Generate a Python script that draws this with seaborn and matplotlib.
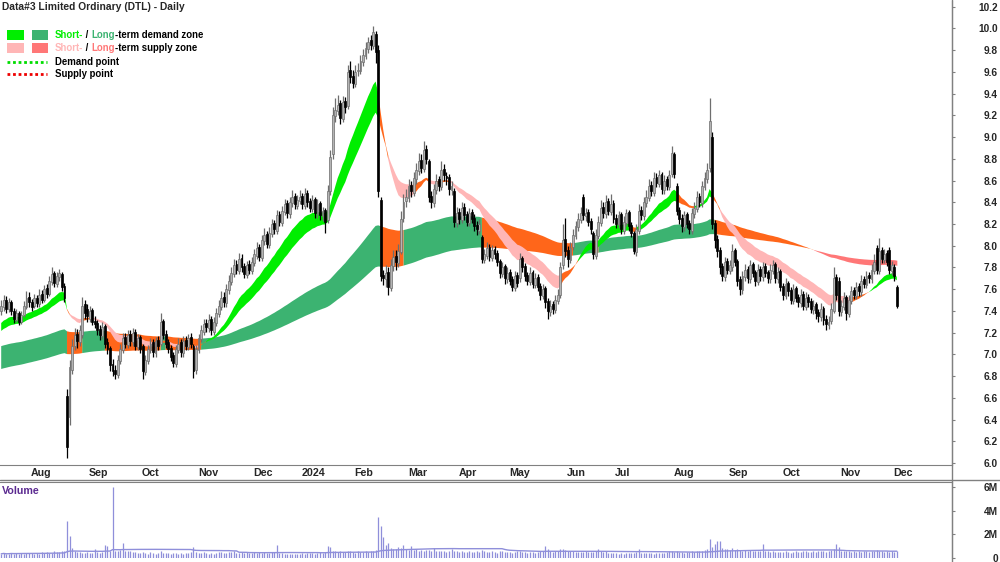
import numpy as np
import pandas as pd
import matplotlib
matplotlib.use("Agg")
import matplotlib.pyplot as plt
import matplotlib.transforms as mtransforms
from matplotlib import font_manager
from matplotlib.lines import Line2D
from matplotlib.patches import Rectangle
import seaborn as sns

# ==================================================
# Settings
# ==================================================
sns.set_style("white")
plt.rcParams["font.family"] = ["Liberation Sans", "DejaVu Sans"]
plt.rcParams["font.weight"] = "bold"

installed = {f.name for f in font_manager.fontManager.ttflist}
NARROW = "Liberation Sans Narrow" if "Liberation Sans Narrow" in installed else "Liberation Sans"
NARROW_SCALE = 1.0 if NARROW == "Liberation Sans Narrow" else 0.82

W, H = 1000, 562

# ==================================================
# Data (daily, 17 Jul 2023 - 4 Dec 2024)
# ==================================================
holidays = ["2023-12-25", "2023-12-26", "2024-01-01", "2024-01-26",
            "2024-03-29", "2024-04-01", "2024-04-25", "2024-06-10"]

opens = [
    # Jul 23
    7.40, 7.44, 7.50, 7.42, 7.48, 7.40, 7.32, 7.38, 7.30, 7.36, 7.44,
    # Aug 23
    7.53, 7.48, 7.45, 7.52, 7.46, 7.56, 7.50, 7.61, 7.56, 7.67, 7.75, 7.65,
    7.71, 7.74, 7.63, 6.62, 6.42, 6.86, 7.08, 7.19, 7.11, 7.18, 7.46,
    # Sep 23
    7.42, 7.33, 7.41, 7.31, 7.29, 7.23, 7.17, 7.26, 7.11, 7.06, 6.91, 6.86,
    6.81, 6.94, 7.04, 7.16, 7.09, 7.19, 7.11, 7.21, 7.07,
    # Oct 23
    7.16, 7.08, 6.84, 6.94, 7.04, 7.11, 7.01, 7.13, 7.10, 7.31, 7.19, 7.11,
    7.06, 6.99, 6.91, 7.04, 7.11, 7.01, 7.13, 7.07, 7.16, 7.08,
    # Nov 23
    6.86, 7.04, 7.14, 7.21, 7.29, 7.24, 7.33, 7.21, 7.29, 7.37, 7.44, 7.53,
    7.47, 7.59, 7.67, 7.74, 7.83, 7.77, 7.89, 7.81, 7.73, 7.83,
    # Dec 23
    7.77, 7.84, 7.91, 7.99, 7.89, 8.04, 8.11, 8.01, 8.11, 8.21, 8.14, 8.29,
    8.21, 8.31, 8.39, 8.29, 8.39, 8.46, 8.37,
    # Jan 24
    8.41, 8.46, 8.37, 8.49, 8.41, 8.34, 8.43, 8.29, 8.39, 8.27, 8.33, 8.24,
    8.50, 8.84, 9.19, 9.24, 9.31, 9.17, 9.33, 9.29, 9.62,
    # Feb 24
    9.56, 9.49, 9.61, 9.61, 9.69, 9.75, 9.81, 9.89, 9.84, 9.95, 9.80, 8.42,
    7.73, 7.69, 7.76, 7.61, 7.81, 7.91, 7.84, 7.94, 8.26,
    # Mar 24
    8.41, 8.44, 8.56, 8.49, 8.61, 8.69, 8.79, 8.71, 8.89, 8.78, 8.46, 8.39,
    8.51, 8.61, 8.54, 8.71, 8.64, 8.63, 8.51, 8.50,
    # Apr 24
    8.21, 8.31, 8.24, 8.36, 8.29, 8.21, 8.31, 8.26, 8.19, 8.14, 8.08, 7.87,
    7.91, 7.99, 7.89, 7.97, 7.93, 7.86, 7.74, 7.81,
    # May 24
    7.69, 7.76, 7.69, 7.61, 7.73, 7.70, 7.89, 7.81, 7.73, 7.67, 7.76, 7.64,
    7.71, 7.63, 7.54, 7.61, 7.49, 7.39, 7.46, 7.41, 7.49, 7.55, 7.82,
    # Jun 24
    8.06, 7.96, 7.87, 7.99, 8.09, 8.17, 8.24, 8.45, 8.27, 8.31, 8.23, 8.12,
    7.91, 8.09, 8.21, 8.36, 8.29, 8.41, 8.31,
    # Jul 24
    8.39, 8.26, 8.19, 8.29, 8.14, 8.21, 8.31, 8.19, 8.12, 7.94, 8.14, 8.33,
    8.27, 8.39, 8.44, 8.56, 8.49, 8.63, 8.57, 8.66, 8.51, 8.61, 8.54,
    # Aug 24
    8.66, 8.84, 8.55, 8.33, 8.26, 8.17, 8.29, 8.21, 8.14, 8.29, 8.34, 8.46,
    8.39, 8.54, 8.61, 8.72, 9.00, 8.21, 8.06, 7.96, 7.81, 7.71,
    # Sep 24
    7.86, 7.77, 7.80, 7.96, 7.86, 7.69, 7.59, 7.71, 7.79, 7.69, 7.83, 7.76,
    7.67, 7.79, 7.71, 7.81, 7.76, 7.69, 7.77, 7.83, 7.69,
    # Oct 24
    7.77, 7.63, 7.54, 7.66, 7.59, 7.49, 7.61, 7.53, 7.47, 7.56, 7.44, 7.53,
    7.49, 7.41, 7.46, 7.39, 7.34, 7.43, 7.33, 7.27, 7.31, 7.40, 7.71,
    # Nov 24
    7.68, 7.39, 7.44, 7.53, 7.37, 7.49, 7.59, 7.54, 7.63, 7.57, 7.69, 7.64,
    7.73, 7.69, 7.77, 7.98, 7.77, 7.96, 7.87, 7.93, 7.96,
    # Dec 24
    7.77, 7.80, 7.62,
]

highs = [
    7.50, 7.55, 7.54, 7.52, 7.50, 7.43, 7.42, 7.40, 7.40, 7.49, 7.58,
    7.57, 7.51, 7.56, 7.55, 7.60, 7.59, 7.64, 7.65, 7.72, 7.80, 7.77, 7.76,
    7.79, 7.76, 7.66, 6.68, 6.95, 7.14, 7.24, 7.23, 7.27, 7.53, 7.50,
    7.46, 7.45, 7.43, 7.35, 7.32, 7.27, 7.30, 7.28, 7.15, 7.08, 6.96, 6.90,
    6.99, 7.10, 7.20, 7.20, 7.22, 7.22, 7.24, 7.23, 7.19,
    7.18, 7.10, 6.99, 7.09, 7.15, 7.14, 7.16, 7.17, 7.38, 7.33, 7.22, 7.14,
    7.09, 7.02, 7.09, 7.15, 7.14, 7.17, 7.17, 7.19, 7.20, 7.10,
    7.09, 7.19, 7.27, 7.33, 7.33, 7.37, 7.35, 7.34, 7.43, 7.50, 7.58, 7.57,
    7.65, 7.73, 7.80, 7.88, 7.87, 7.93, 7.92, 7.84, 7.86, 7.87,
    7.90, 7.97, 8.03, 8.02, 8.10, 8.16, 8.14, 8.17, 8.25, 8.24, 8.33, 8.32,
    8.37, 8.43, 8.42, 8.45, 8.51, 8.49, 8.47,
    8.51, 8.49, 8.53, 8.51, 8.44, 8.47, 8.45, 8.43, 8.41, 8.36, 8.35, 8.56,
    8.88, 9.28, 9.36, 9.39, 9.34, 9.38, 9.37, 9.66, 9.70,
    9.62, 9.66, 9.68, 9.76, 9.81, 9.88, 9.92, 9.94, 10.02, 9.98, 9.85, 8.45,
    7.78, 7.82, 7.80, 7.88, 7.96, 7.96, 8.02, 8.32, 8.48,
    8.52, 8.61, 8.60, 8.68, 8.76, 8.85, 8.84, 8.96, 8.93, 8.80, 8.50, 8.57,
    8.66, 8.64, 8.78, 8.75, 8.68, 8.66, 8.60, 8.53,
    8.36, 8.35, 8.40, 8.39, 8.32, 8.35, 8.34, 8.29, 8.23, 8.25, 8.10, 7.97,
    8.03, 8.02, 8.01, 8.00, 7.96, 7.88, 7.85, 7.83,
    7.80, 7.79, 7.72, 7.77, 7.76, 7.93, 7.91, 7.84, 7.76, 7.80, 7.78, 7.75,
    7.74, 7.66, 7.65, 7.63, 7.52, 7.50, 7.49, 7.55, 7.60, 7.85, 8.20,
    8.26, 8.00, 8.03, 8.15, 8.23, 8.30, 8.36, 8.48, 8.35, 8.34, 8.26, 8.14,
    8.15, 8.27, 8.42, 8.40, 8.47, 8.44, 8.48,
    8.42, 8.29, 8.32, 8.31, 8.27, 8.34, 8.33, 8.22, 8.14, 8.20, 8.38, 8.37,
    8.45, 8.51, 8.61, 8.60, 8.68, 8.67, 8.70, 8.68, 8.65, 8.64, 8.70,
    8.92, 8.86, 8.58, 8.36, 8.29, 8.32, 8.31, 8.24, 8.35, 8.40, 8.50, 8.49,
    8.60, 8.68, 8.76, 9.36, 9.05, 8.24, 8.10, 7.99, 7.84, 7.90,
    7.89, 7.87, 8.02, 7.98, 7.88, 7.72, 7.77, 7.83, 7.81, 7.87, 7.85, 7.78,
    7.83, 7.81, 7.85, 7.84, 7.78, 7.83, 7.87, 7.85, 7.80,
    7.79, 7.66, 7.70, 7.68, 7.62, 7.65, 7.63, 7.56, 7.60, 7.58, 7.57, 7.56,
    7.52, 7.50, 7.48, 7.42, 7.47, 7.45, 7.36, 7.35, 7.47, 7.80, 7.74,
    7.71, 7.50, 7.57, 7.55, 7.55, 7.63, 7.62, 7.67, 7.66, 7.73, 7.72, 7.77,
    7.76, 7.83, 7.92, 8.01, 8.07, 7.99, 7.97, 7.96, 7.99,
    7.86, 7.83, 7.64,
]

lows = [
    7.36, 7.40, 7.38, 7.39, 7.36, 7.29, 7.30, 7.27, 7.28, 7.34, 7.42,
    7.44, 7.40, 7.43, 7.44, 7.44, 7.47, 7.48, 7.52, 7.54, 7.64, 7.62, 7.62,
    7.68, 7.58, 7.48, 6.05, 6.35, 6.82, 7.04, 7.06, 7.08, 7.15, 7.33,
    7.30, 7.30, 7.27, 7.24, 7.18, 7.13, 7.14, 7.06, 7.00, 6.85, 6.80, 6.77,
    6.78, 6.91, 7.01, 7.06, 7.06, 7.08, 7.08, 7.04, 7.04,
    7.01, 6.77, 6.81, 6.91, 7.01, 6.98, 6.98, 7.04, 7.08, 7.14, 7.06, 7.01,
    6.94, 6.88, 6.88, 7.01, 6.98, 6.98, 7.04, 7.04, 7.06, 6.78,
    6.82, 7.01, 7.11, 7.18, 7.21, 7.21, 7.18, 7.18, 7.26, 7.34, 7.41, 7.44,
    7.44, 7.56, 7.64, 7.71, 7.74, 7.74, 7.76, 7.70, 7.70, 7.74,
    7.74, 7.81, 7.88, 7.86, 7.86, 8.01, 7.98, 7.98, 8.08, 8.11, 8.11, 8.18,
    8.18, 8.28, 8.26, 8.26, 8.36, 8.34, 8.34,
    8.38, 8.34, 8.34, 8.36, 8.31, 8.31, 8.26, 8.26, 8.24, 8.23, 8.12, 8.21,
    8.47, 8.80, 9.14, 9.20, 9.12, 9.14, 9.22, 9.26, 9.50,
    9.45, 9.46, 9.56, 9.58, 9.65, 9.72, 9.77, 9.80, 9.81, 9.68, 8.45, 7.68,
    7.64, 7.62, 7.55, 7.58, 7.77, 7.78, 7.80, 7.92, 8.22,
    8.36, 8.40, 8.45, 8.46, 8.57, 8.65, 8.67, 8.68, 8.75, 8.40, 8.35, 8.36,
    8.48, 8.50, 8.51, 8.60, 8.56, 8.47, 8.47, 8.17,
    8.17, 8.20, 8.21, 8.24, 8.18, 8.18, 8.21, 8.14, 8.10, 8.11, 7.84, 7.84,
    7.88, 7.86, 7.86, 7.88, 7.81, 7.70, 7.71, 7.65,
    7.66, 7.64, 7.58, 7.58, 7.62, 7.67, 7.76, 7.68, 7.64, 7.64, 7.61, 7.61,
    7.58, 7.50, 7.51, 7.43, 7.33, 7.35, 7.37, 7.38, 7.46, 7.52, 7.79,
    7.90, 7.80, 7.84, 7.96, 8.06, 8.14, 8.21, 8.24, 8.23, 8.18, 8.11, 7.88,
    7.88, 8.06, 8.18, 8.26, 8.26, 8.28, 8.28,
    8.21, 8.16, 8.16, 8.11, 8.11, 8.18, 8.14, 8.08, 7.92, 7.91, 8.11, 8.24,
    8.24, 8.36, 8.41, 8.46, 8.46, 8.54, 8.54, 8.48, 8.48, 8.51, 8.51,
    8.63, 8.62, 8.28, 8.20, 8.13, 8.14, 8.16, 8.11, 8.11, 8.26, 8.31, 8.36,
    8.36, 8.51, 8.58, 8.68, 8.15, 7.98, 7.90, 7.74, 7.68, 7.68,
    7.74, 7.74, 7.77, 7.81, 7.63, 7.55, 7.56, 7.68, 7.66, 7.66, 7.71, 7.63,
    7.64, 7.68, 7.68, 7.71, 7.66, 7.66, 7.74, 7.66, 7.66,
    7.58, 7.50, 7.51, 7.54, 7.46, 7.46, 7.48, 7.44, 7.44, 7.41, 7.41, 7.44,
    7.38, 7.37, 7.33, 7.30, 7.31, 7.27, 7.22, 7.23, 7.28, 7.38, 7.50,
    7.35, 7.35, 7.41, 7.32, 7.34, 7.46, 7.51, 7.51, 7.54, 7.54, 7.61, 7.61,
    7.66, 7.66, 7.74, 7.74, 7.74, 7.84, 7.84, 7.81, 7.74,
    7.73, 7.68, 7.43,
]

closes = [
    7.45, 7.50, 7.42, 7.48, 7.40, 7.33, 7.38, 7.30, 7.36, 7.45, 7.52,
    7.48, 7.44, 7.52, 7.47, 7.55, 7.50, 7.60, 7.56, 7.68, 7.74, 7.66, 7.72,
    7.75, 7.62, 7.52, 6.15, 6.88, 7.08, 7.18, 7.12, 7.22, 7.45, 7.38,
    7.35, 7.40, 7.30, 7.28, 7.22, 7.18, 7.25, 7.10, 7.05, 6.90, 6.85, 6.82,
    6.95, 7.05, 7.15, 7.10, 7.18, 7.12, 7.20, 7.08, 7.15,
    7.05, 6.85, 6.95, 7.05, 7.10, 7.02, 7.12, 7.08, 7.30, 7.18, 7.10, 7.05,
    6.98, 6.92, 7.05, 7.10, 7.02, 7.12, 7.08, 7.15, 7.10, 6.85,
    7.05, 7.15, 7.22, 7.28, 7.25, 7.32, 7.22, 7.30, 7.38, 7.45, 7.52, 7.48,
    7.60, 7.68, 7.75, 7.82, 7.78, 7.88, 7.80, 7.74, 7.82, 7.78,
    7.85, 7.92, 7.98, 7.90, 8.05, 8.10, 8.02, 8.12, 8.20, 8.15, 8.28, 8.22,
    8.32, 8.38, 8.30, 8.40, 8.45, 8.38, 8.42,
    8.45, 8.38, 8.48, 8.40, 8.35, 8.42, 8.30, 8.38, 8.28, 8.32, 8.22, 8.50,
    8.82, 9.20, 9.25, 9.30, 9.18, 9.32, 9.28, 9.60, 9.55,
    9.50, 9.60, 9.62, 9.70, 9.76, 9.82, 9.88, 9.85, 9.97, 9.78, 8.50, 7.72,
    7.70, 7.75, 7.62, 7.82, 7.90, 7.85, 7.95, 8.25, 8.40,
    8.45, 8.55, 8.50, 8.62, 8.70, 8.78, 8.72, 8.88, 8.80, 8.45, 8.40, 8.52,
    8.60, 8.55, 8.70, 8.65, 8.62, 8.52, 8.55, 8.22,
    8.30, 8.25, 8.35, 8.28, 8.22, 8.30, 8.25, 8.18, 8.15, 8.20, 7.88, 7.92,
    7.98, 7.90, 7.96, 7.92, 7.85, 7.75, 7.80, 7.70,
    7.75, 7.68, 7.62, 7.72, 7.66, 7.88, 7.80, 7.72, 7.68, 7.75, 7.65, 7.70,
    7.62, 7.55, 7.60, 7.48, 7.40, 7.45, 7.42, 7.50, 7.55, 7.80, 8.05,
    7.95, 7.88, 7.98, 8.10, 8.18, 8.25, 8.30, 8.28, 8.30, 8.22, 8.15, 7.92,
    8.10, 8.22, 8.35, 8.30, 8.40, 8.32, 8.38,
    8.25, 8.20, 8.28, 8.15, 8.22, 8.30, 8.18, 8.12, 7.95, 8.15, 8.32, 8.28,
    8.40, 8.45, 8.55, 8.50, 8.62, 8.58, 8.65, 8.52, 8.60, 8.55, 8.65,
    8.85, 8.66, 8.32, 8.25, 8.18, 8.28, 8.20, 8.15, 8.30, 8.35, 8.45, 8.40,
    8.55, 8.62, 8.70, 9.15, 8.20, 8.05, 7.95, 7.80, 7.72, 7.85,
    7.78, 7.82, 7.95, 7.85, 7.68, 7.60, 7.72, 7.78, 7.70, 7.82, 7.75, 7.68,
    7.78, 7.72, 7.80, 7.75, 7.70, 7.78, 7.82, 7.70, 7.76,
    7.62, 7.55, 7.65, 7.58, 7.50, 7.60, 7.52, 7.48, 7.55, 7.45, 7.52, 7.48,
    7.42, 7.45, 7.38, 7.35, 7.42, 7.32, 7.28, 7.30, 7.42, 7.70, 7.55,
    7.40, 7.45, 7.52, 7.38, 7.50, 7.58, 7.55, 7.62, 7.58, 7.68, 7.65, 7.72,
    7.70, 7.78, 7.85, 7.78, 7.95, 7.88, 7.92, 7.85, 7.78,
    7.82, 7.72, 7.45,
]

# volume in millions of shares
volumes = [
    0.35, 0.42, 0.30, 0.38, 0.45, 0.33, 0.40, 0.36, 0.44, 0.38, 0.41,
    0.39, 0.46, 0.35, 0.42, 0.37, 0.48, 0.40, 0.52, 0.45, 0.43, 0.55, 0.47,
    0.50, 0.62, 0.58, 3.15, 1.86, 0.85, 0.60, 0.48, 0.52, 0.45, 0.40,
    0.50, 0.46, 0.42, 0.80, 0.48, 0.44, 0.52, 1.10, 1.00, 0.55, 6.00, 0.62,
    0.58, 0.70, 1.27, 0.60, 0.55, 0.62, 0.50, 0.48, 0.45,
    0.42, 0.50, 0.45, 0.38, 0.47, 0.40, 0.36, 0.44, 0.55, 0.41, 0.39, 0.46,
    0.37, 0.43, 0.40, 0.35, 0.42, 0.38, 0.45, 0.40, 0.48, 0.93,
    0.52, 0.45, 0.40, 0.48, 0.42, 0.38, 0.44, 0.36, 0.41, 0.47, 0.50, 0.43,
    0.46, 0.52, 0.48, 0.55, 0.45, 0.42, 0.50, 0.44, 0.47, 0.40,
    0.45, 0.50, 0.42, 0.48, 0.40, 0.53, 0.46, 0.44, 0.51, 0.47, 1.10, 0.45,
    0.40, 0.38, 0.35, 0.32, 0.30, 0.34, 0.36,
    0.38, 0.42, 0.36, 0.40, 0.45, 0.41, 0.37, 0.43, 0.48, 0.46, 0.52, 1.00,
    0.90, 0.62, 0.55, 0.50, 0.58, 0.47, 0.52, 0.60, 0.55,
    0.50, 0.46, 0.55, 0.52, 0.48, 0.58, 0.53, 0.60, 0.62, 0.70, 3.46, 2.70,
    1.78, 1.10, 1.30, 0.85, 0.80, 0.78, 0.95, 0.82, 1.10,
    0.75, 0.70, 1.00, 0.66, 0.72, 0.62, 0.68, 0.58, 0.64, 0.70, 0.60, 0.85,
    0.56, 0.62, 0.55, 0.60, 0.52, 0.58, 0.75, 0.62,
    0.55, 0.50, 0.58, 0.52, 0.48, 0.60, 0.54, 0.50, 0.56, 0.52, 0.70, 0.58,
    0.52, 0.48, 0.55, 0.50, 0.46, 0.62, 0.55, 0.50,
    0.48, 0.52, 0.45, 0.50, 0.55, 0.62, 0.50, 0.47, 0.44, 0.52, 0.48, 0.46,
    0.50, 0.58, 0.62, 1.00, 0.80, 0.55, 0.52, 0.60, 0.58, 0.80, 0.72,
    0.65, 0.58, 0.55, 0.62, 0.50, 0.54, 0.48, 0.52, 0.56, 0.50, 0.47, 0.53,
    0.60, 0.80, 0.55, 0.50, 0.58, 0.46, 0.44,
    0.42, 0.40, 0.38, 0.44, 0.36, 0.41, 0.39, 0.45, 0.43, 0.48, 0.80, 0.46,
    0.42, 0.40, 0.45, 0.43, 0.38, 0.41, 0.44, 0.40, 0.46, 0.52, 0.60,
    0.55, 0.52, 0.62, 0.50, 0.48, 0.45, 0.52, 0.47, 0.55, 0.50, 0.58, 0.60,
    0.62, 0.68, 0.75, 1.60, 0.90, 1.20, 1.40, 1.45, 0.85, 0.80,
    0.75, 0.70, 0.85, 0.65, 0.72, 0.68, 0.62, 0.70, 0.58, 0.64, 0.60, 0.55,
    0.62, 0.58, 1.20, 0.56, 0.60, 0.52, 0.58, 0.54, 0.50,
    0.52, 0.48, 0.55, 0.50, 0.46, 0.53, 0.58, 0.50, 0.47, 0.55, 0.60, 0.52,
    0.48, 0.56, 0.50, 0.62, 0.55, 0.58, 0.52, 0.60, 0.65, 0.72, 1.20,
    0.90, 0.62, 0.58, 0.55, 0.60, 0.52, 0.56, 0.50, 0.58, 0.54, 0.62, 0.57,
    0.52, 0.55, 0.60, 0.65, 0.58, 0.55, 0.52, 0.57, 0.54,
    0.55, 0.50, 0.58,
]

# zone settings: EMA spans and band levels at the left edge
short_spans = (18, 30)
short_seeds = (7.27, 7.20)
long_spans = (120, 200)
long_seeds = (7.07, 6.86)

month_names = ["Aug", "Sep", "Oct", "Nov", "Dec", "2024", "Feb", "Mar", "Apr",
               "May", "Jun", "Jul", "Aug", "Sep", "Oct", "Nov", "Dec"]

# ==================================================
# Frame
# ==================================================
o = np.array(opens)
c = np.array(closes)
hi = np.maximum(np.array(highs), np.maximum(o, c))
lo = np.minimum(np.array(lows), np.minimum(o, c))
vol = np.array(volumes)
n = len(c)
x = np.arange(n)
dates = pd.bdate_range("2023-07-17", periods=n, freq="C", holidays=holidays)
df = pd.DataFrame({"date": dates, "open": o, "high": hi, "low": lo,
                   "close": c, "volume": vol})


def ema(values, span, seed):
    a = 2.0 / (span + 1)
    out = []
    prev = seed
    for v in values:
        prev = prev + a * (v - prev)
        out.append(prev)
    return np.array(out)


s_fast = ema(c, short_spans[0], short_seeds[0])
s_slow = ema(c, short_spans[1], short_seeds[1])
l_fast = ema(c, long_spans[0], long_seeds[0])
l_slow = ema(c, long_spans[1], long_seeds[1])

s_up = s_fast > s_slow
s_green = s_up & (c >= s_slow)
s_pink = ~s_up & (c <= s_slow)
s_orange = ~(s_green | s_pink)

# long zone: demand is lost when a close falls under the middle of the band,
# and regained when a close clears the top of the band by half its width
l_up = l_fast > l_slow
l_top = np.maximum(l_fast, l_slow)
l_bot = np.minimum(l_fast, l_slow)
l_mid = (l_top + l_bot) / 2
l_green = np.zeros(n, dtype=bool)
state = True
for i in range(n):
    if state and c[i] < l_mid[i]:
        state = False
    elif not state and c[i] > l_top[i] + (l_top[i] - l_bot[i]) / 2:
        state = True
    l_green[i] = state
l_red = ~l_up
l_green &= l_up
l_orange = ~(l_green | l_red)

C_GREEN = "#00EE00"
C_DKGREEN = "#3CB371"
C_PINK = "#FFB6B6"
C_SALMON = "#FF7777"
C_ORANGE = "#FF661A"
C_AXIS = "#808080"
C_VOL = "#8F8FDA"

# ==================================================
# Figure
# ==================================================
fig = plt.figure(figsize=(W / 100, H / 100), dpi=100)
ax = fig.add_axes([0, 1 - 465 / H, 952 / W, 465 / H])
axv = fig.add_axes([0, 4 / H, 952 / W, 76 / H])

x_left = -1.2 / 2.53
x_right = (952 - 1.2) / 2.53


def band(axis, a, b, mask, color):
    m = mask.copy()
    m[1:] = m[1:] | mask[:-1]
    axis.fill_between(x, np.minimum(a, b), np.maximum(a, b), where=m,
                      color=color, lw=0, zorder=1)


band(ax, l_fast, l_slow, l_green, C_DKGREEN)
band(ax, l_fast, l_slow, l_orange, C_ORANGE)
band(ax, l_fast, l_slow, l_red, C_SALMON)
band(ax, s_fast, s_slow, s_green, C_GREEN)
band(ax, s_fast, s_slow, s_pink, C_PINK)
band(ax, s_fast, s_slow, s_orange, C_ORANGE)

# candles
up = c >= o
dn = ~up
ax.vlines(x[up], lo[up], hi[up], color="#6E6E6E", lw=0.9, zorder=3)
ax.vlines(x[dn], lo[dn], hi[dn], color="black", lw=0.9, zorder=3)
ax.bar(x[up], np.maximum(c - o, 0.01)[up], bottom=o[up], width=0.75,
       color="#B4B4B4", edgecolor="#6E6E6E", lw=0.5, zorder=4)
ax.bar(x[dn], (o - c)[dn], bottom=c[dn], width=0.75,
       color="black", edgecolor="black", lw=0.5, zorder=4)

ax.set_xlim(x_left, x_right)
ax.set_ylim(5.982, 10.262)

# price axis on the right
ticks = np.round(np.arange(6.0, 10.21, 0.2), 1)
ax.yaxis.tick_right()
ax.set_yticks(ticks)
ax.set_yticklabels([f"{t:.1f}" for t in ticks], fontsize=7.3, fontweight="bold")
ax.tick_params(axis="y", direction="out", length=2, pad=31, color=C_AXIS)
for lab in ax.get_yticklabels():
    lab.set_horizontalalignment("right")

# month ticks
month_start = df.groupby([df["date"].dt.year, df["date"].dt.month]).head(1).index[1:]
ax.set_xticks(month_start)
ax.set_xticklabels([])
ax.tick_params(axis="x", direction="out", length=3, color=C_AXIS)
trans = mtransforms.blended_transform_factory(ax.transData, ax.transAxes)
for pos, name in zip(month_start, month_names):
    ax.text(pos + 0.7, -8 / 465, name, transform=trans, ha="left", va="center",
            fontsize=7.7, fontweight="bold")

for side in ["left", "top"]:
    ax.spines[side].set_visible(False)
for side in ["right", "bottom"]:
    ax.spines[side].set_color(C_AXIS)

# ==================================================
# Volume
# ==================================================
axv.vlines(x, 0, vol, color=C_VOL, lw=0.9)
vol_ma = pd.Series(vol).rolling(50, min_periods=1).mean()
sns.lineplot(x=x, y=vol_ma.values, ax=axv, color=C_VOL, lw=1)
axv.set_xlim(x_left, x_right)
axv.set_ylim(0, 76 / 71 * 6)
axv.set_xticks([])
axv.set_xlabel("")
axv.set_ylabel("")
axv.yaxis.tick_right()
axv.set_yticks([0, 2, 4, 6])
axv.set_yticklabels(["0", "2M", "4M", "6M"], fontsize=7.3, fontweight="bold")
axv.tick_params(axis="y", direction="out", length=2, pad=31, color=C_AXIS)
for lab in axv.get_yticklabels():
    lab.set_horizontalalignment("right")
for side in ["left", "bottom"]:
    axv.spines[side].set_visible(False)
for side in ["right", "top"]:
    axv.spines[side].set_color(C_AXIS)
axv.text(2 / 952, 1 - 9 / 76, "Volume", transform=axv.transAxes, ha="left",
         va="center", fontsize=7.7, fontweight="bold", color="#5B2A90")

fig.add_artist(Line2D([952 / W, 952 / W], [0, 1], transform=fig.transFigure,
                      color=C_AXIS, lw=1))
fig.add_artist(Line2D([0, 1], [1 - 480 / H, 1 - 480 / H],
                      transform=fig.transFigure, color=C_AXIS, lw=1))

# ==================================================
# Title and legend
# ==================================================
renderer = fig.canvas.get_renderer()
fig.text(2 / W, 1 - 7 / H, "Data#3 Limited Ordinary (DTL) - Daily",
         ha="left", va="center", fontsize=9 * NARROW_SCALE, fontweight="bold",
         family=[NARROW, "DejaVu Sans"])


def text_run(x_px, y_px, parts):
    for s, col in parts:
        t = fig.text(x_px / W, 1 - y_px / H, s, color=col, ha="left",
                     va="center", fontsize=8.5 * NARROW_SCALE, fontweight="bold",
                     family=[NARROW, "DejaVu Sans"])
        x_px += t.get_window_extent(renderer).width


def swatch(x_px, y_px, w, h, color):
    fig.add_artist(Rectangle((x_px / W, 1 - (y_px + h) / H), w / W, h / H,
                             transform=fig.transFigure, color=color, lw=0))


swatch(7, 30, 17, 10, C_GREEN)
swatch(32, 30, 16, 10, C_DKGREEN)
swatch(7, 43, 17, 10, C_PINK)
swatch(32, 43, 16, 10, C_SALMON)
text_run(55, 35, [("Short-", C_GREEN), (" / ", "black"), ("Long", C_DKGREEN),
                  ("-term demand zone", "black")])
text_run(55, 48, [("Short-", C_PINK), (" / ", "black"), ("Long", C_SALMON),
                  ("-term supply zone", "black")])
fig.add_artist(Line2D([7 / W, 47 / W], [1 - 62 / H] * 2, transform=fig.transFigure,
                      color="#00DD00", lw=2, ls=(0, (1, 1))))
fig.add_artist(Line2D([7 / W, 47 / W], [1 - 74 / H] * 2, transform=fig.transFigure,
                      color="#EE0000", lw=2, ls=(0, (1, 1))))
text_run(55, 62, [("Demand point", "black")])
text_run(55, 74, [("Supply point", "black")])

fig.savefig("out.png", dpi=100)
